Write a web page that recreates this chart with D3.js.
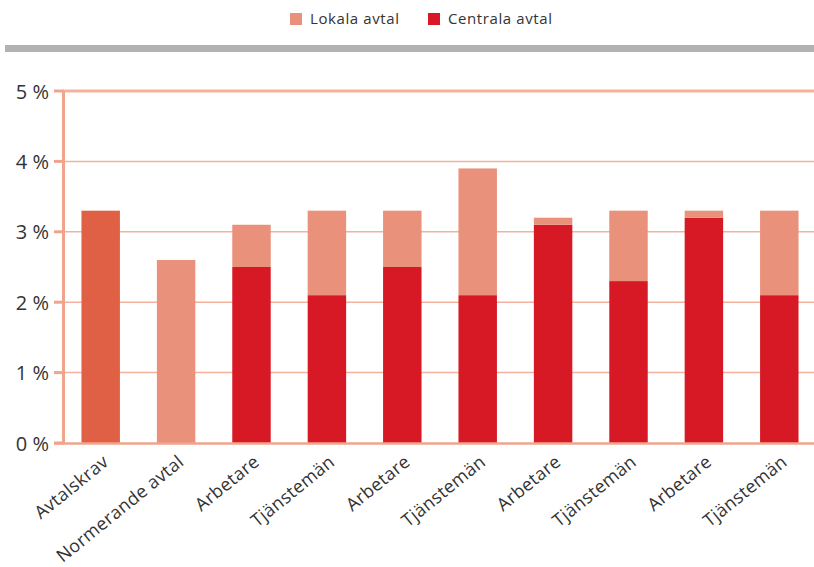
<!DOCTYPE html>
<html><head><meta charset="utf-8">
<script src="https://cdn.jsdelivr.net/npm/d3@7"></script>
<style>
body{margin:0;background:#fff;}
text{font-family:"Open Sans","Noto Sans",sans-serif;fill:#333;}
</style></head>
<body><svg id="c" width="814" height="567"></svg>
<script>
const categories = ["Avtalskrav","Normerande avtal","Arbetare","Tjänstemän","Arbetare","Tjänstemän","Arbetare","Tjänstemän","Arbetare","Tjänstemän"];
const centrala = [0, 0, 2.5, 2.1, 2.5, 2.1, 3.1, 2.3, 3.2, 2.1];
const lokala   = [0, 2.6, 0.6, 1.2, 0.8, 1.8, 0.1, 1.0, 0.1, 1.2];
const avtalskrav = [3.3, 0, 0, 0, 0, 0, 0, 0, 0, 0];
const yTicks = [0, 1, 2, 3, 4, 5];
const seriesNames = ["Lokala avtal", "Centrala avtal"];
const colors = {krav:"#E06045", lokala:"#E9917A", centrala:"#D71925"};

const svg = d3.select("#c");
const x = d3.scaleBand().domain(d3.range(categories.length)).range([63, 817]).paddingInner(0.49).paddingOuter(0.245);
const y = d3.scaleLinear().domain([0, 5]).range([443, 91]);

// legend
const leg = svg.append("g");
const legItems = [{n:seriesNames[0], c:colors.lokala, x:290},{n:seriesNames[1], c:colors.centrala, x:428}];
legItems.forEach(d=>{
  leg.append("rect").attr("x",d.x).attr("y",13).attr("width",12).attr("height",12).attr("fill",d.c);
  leg.append("text").attr("x",d.x+20).attr("y",24).attr("font-size",15).attr("letter-spacing",0.6).text(d.n);
});
svg.append("rect").attr("x",5).attr("y",45).attr("width",809).attr("height",7).attr("fill","#B2B2B4");

// grid
const yAxis = d3.axisLeft(y).tickValues(yTicks).tickSize(0).tickFormat(d=>d+" %");
svg.append("g").selectAll("line").data(yTicks.filter(t=>t>0)).join("line")
  .attr("x1",63).attr("x2",814).attr("y1",d=>y(d)).attr("y2",d=>y(d))
  .attr("stroke","#F4B29C").attr("stroke-width",d=>d===5?3:1.5);
// tick marks
svg.append("g").selectAll("line").data(yTicks).join("line")
  .attr("x1",54).attr("x2",64).attr("y1",d=>y(d)).attr("y2",d=>y(d))
  .attr("stroke","#F0A48C").attr("stroke-width",3);

// bars
const g = svg.append("g");
categories.forEach((c,i)=>{
  if (avtalskrav[i]>0) g.append("rect").attr("x",x(i)).attr("width",x.bandwidth()).attr("y",y(avtalskrav[i])).attr("height",y(0)-y(avtalskrav[i])).attr("fill",colors.krav);
  if (centrala[i]>0) g.append("rect").attr("x",x(i)).attr("width",x.bandwidth()).attr("y",y(centrala[i])).attr("height",y(0)-y(centrala[i])).attr("fill",colors.centrala);
  if (lokala[i]>0) g.append("rect").attr("x",x(i)).attr("width",x.bandwidth()).attr("y",y(centrala[i]+lokala[i])).attr("height",y(centrala[i])-y(centrala[i]+lokala[i])).attr("fill",colors.lokala);
});

// axes lines
svg.append("line").attr("x1",63.5).attr("x2",63.5).attr("y1",91).attr("y2",444).attr("stroke","#F0A48C").attr("stroke-width",3);
svg.append("line").attr("x1",54).attr("x2",814).attr("y1",443.5).attr("y2",443.5).attr("stroke","#F0A48C").attr("stroke-width",2.5);

// y labels
const ya = svg.append("g").attr("transform","translate(49,0)").call(yAxis);
ya.select(".domain").remove();
ya.selectAll("text").attr("font-size",20).attr("fill","#333").attr("dy","0.35em").attr("x",0)
  .style("font-family",'"Open Sans","Noto Sans",sans-serif');

// x labels
const xa = d3.axisBottom(x).tickSize(0).tickFormat(i=>categories[i]);
const xg = svg.append("g").attr("transform","translate(0,443)").call(xa);
xg.select(".domain").remove();
xg.selectAll("text").attr("font-size",18).attr("fill","#333").attr("letter-spacing",0.3)
  .style("font-family",'"Open Sans","Noto Sans",sans-serif')
  .attr("text-anchor","end").attr("x",0).attr("y",0).attr("dy",0)
  .attr("transform","translate(9,21) rotate(-39)");
</script></body></html>
